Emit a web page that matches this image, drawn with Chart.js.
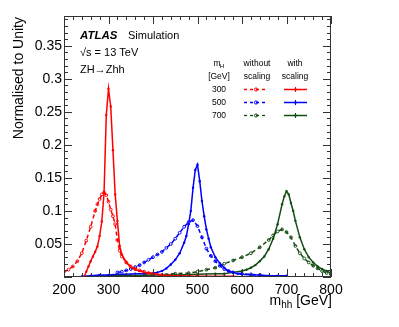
<!DOCTYPE html>
<html><head><meta charset="utf-8">
<script src="https://cdn.jsdelivr.net/npm/chart.js@4"></script>
<style>html,body{margin:0;padding:0;background:#fff}#wrap{width:399px;height:327px}</style>
</head><body><div id="wrap"><canvas id="c" width="399" height="327"></canvas></div>
<script>
// ---- data ----
const massLabels = ['300', '500', '700'];
const xTicks = [200, 300, 400, 500, 600, 700, 800];
const yTicks = [0.05, 0.1, 0.15, 0.2, 0.25, 0.3, 0.35];

const x300With = [245,250,255,260,265,270,275,280,285,290,295,300,305,310,315,320,325,330,340,350,360,370,380,390,400,410,420,440,460,480,500,520,540,560,580,600];
const y300With = [0.000,0.008,0.016,0.024,0.031,0.038,0.046,0.062,0.084,0.127,0.245,0.285,0.258,0.192,0.125,0.085,0.047,0.034,0.022,0.015,0.011,0.009,0.007,0.006,0.005,0.004,0.003,0.002,0.002,0.001,0.001,0.001,0.001,0.001,0.001,0.000];

const x300Without = [200,210,220,230,240,250,260,270,275,280,285,290,295,300,305,310,315,320,325,330,340,350,360,370,380,390,400,420,440,460,480,500];
const y300Without = [0.008,0.011,0.016,0.024,0.036,0.055,0.076,0.100,0.110,0.118,0.125,0.128,0.124,0.114,0.102,0.092,0.080,0.056,0.040,0.031,0.022,0.016,0.013,0.010,0.008,0.006,0.005,0.003,0.002,0.001,0.001,0.001];

const x500With = [240,260,280,300,320,340,360,380,400,410,420,430,440,450,460,470,475,480,485,490,495,500,505,510,515,520,525,530,540,550,560,570,580,590,600,620,640,660,680,700];
const y500With = [0.001,0.002,0.003,0.003,0.004,0.004,0.005,0.005,0.006,0.007,0.009,0.013,0.019,0.026,0.036,0.052,0.062,0.080,0.100,0.135,0.162,0.170,0.145,0.115,0.092,0.072,0.058,0.045,0.030,0.021,0.014,0.009,0.007,0.005,0.004,0.003,0.003,0.002,0.002,0.002];

const x500Without = [320,330,340,350,360,370,380,390,400,410,420,430,440,450,460,470,480,490,500,510,520,530,540,550,560,570,580,600,620,640];
const y500Without = [0.007,0.008,0.010,0.012,0.015,0.018,0.022,0.026,0.030,0.034,0.038,0.044,0.050,0.058,0.067,0.076,0.083,0.086,0.077,0.060,0.043,0.032,0.024,0.017,0.012,0.009,0.007,0.005,0.004,0.003];

const x700With = [270,300,350,400,450,500,540,560,580,600,610,620,630,640,650,660,670,680,690,695,700,705,710,715,720,730,740,750,760,770,780,790,800];
const y700With = [0.001,0.002,0.002,0.003,0.003,0.004,0.005,0.005,0.007,0.009,0.011,0.014,0.018,0.024,0.031,0.042,0.058,0.080,0.110,0.122,0.130,0.125,0.112,0.100,0.085,0.060,0.042,0.030,0.022,0.016,0.012,0.009,0.006];

const x700Without = [300,350,400,450,480,500,520,540,560,580,600,620,640,660,670,680,690,700,710,720,730,740,750,760,770,780,790,800];
const y700Without = [0.001,0.002,0.003,0.005,0.006,0.008,0.011,0.014,0.020,0.025,0.030,0.036,0.045,0.056,0.063,0.069,0.072,0.068,0.060,0.047,0.036,0.028,0.022,0.017,0.013,0.009,0.006,0.004];

const RED = '#ff0000', BLUE = '#0000ff', GREEN = '#134d13';

function pts(xs, ys) { return xs.map((x, i) => ({x: x, y: ys[i]})); }
function solid(xs, ys, col) {
  return {data: pts(xs, ys), borderColor: col, backgroundColor: col, borderWidth: 1.5,
    pointRadius: 1.2, pointBorderWidth: 0, pointBackgroundColor: col, tension: 0, fill: false};
}
function dashed(xs, ys, col) {
  return {data: pts(xs, ys), borderColor: col, backgroundColor: 'rgba(0,0,0,0)', borderWidth: 1.5,
    borderDash: [4, 3], pointRadius: 1.4, pointBorderWidth: 1, pointBorderColor: col,
    pointBackgroundColor: 'rgba(0,0,0,0)', tension: 0, fill: false};
}

const FONT = '"Liberation Sans", Arial, Helvetica, sans-serif';

const framePlugin = {
  id: 'frame',
  afterDatasetsDraw(chart) {
    const ctx = chart.ctx, a = chart.chartArea, xs = chart.scales.x, ys = chart.scales.y;
    ctx.save();
    ctx.strokeStyle = '#333'; ctx.lineWidth = 1;
    ctx.strokeRect(a.left + 0.5, a.top + 0.5, a.right - a.left - 1, a.bottom - a.top - 1);
    ctx.beginPath();
    // x ticks (major every 100, minor every 20)
    for (let v = 200; v <= 800; v += 20) {
      const p = Math.round(xs.getPixelForValue(v)) + 0.5;
      const L = (v % 100 === 0) ? 8 : 4;
      ctx.moveTo(p, a.bottom); ctx.lineTo(p, a.bottom - L);
      ctx.moveTo(p, a.top); ctx.lineTo(p, a.top + L);
    }
    // y ticks (major every 0.05, minor every 0.01)
    for (let k = 0; k <= 39; k++) {
      const v = k / 100;
      const p = Math.round(ys.getPixelForValue(v)) + 0.5;
      const L = (k % 5 === 0) ? 8 : 4;
      ctx.moveTo(a.left, p); ctx.lineTo(a.left + L, p);
      ctx.moveTo(a.right, p); ctx.lineTo(a.right - L, p);
    }
    ctx.stroke();

    // axis titles
    ctx.fillStyle = '#000';
    ctx.font = '14px ' + FONT;
    ctx.textBaseline = 'alphabetic';
    // x title: m_hh [GeV], right aligned to axis end
    const t1 = 'm', t2 = 'hh', t3 = ' [GeV]';
    ctx.font = '14px ' + FONT; const w1 = ctx.measureText(t1).width, w3 = ctx.measureText(t3).width;
    ctx.font = '10px ' + FONT; const w2 = ctx.measureText(t2).width;
    let xr = a.right + 1, xb = 305;
    let x0 = xr - (w1 + w2 + w3);
    ctx.textAlign = 'left';
    ctx.font = '14px ' + FONT; ctx.fillText(t1, x0, xb);
    ctx.font = '10px ' + FONT; ctx.fillText(t2, x0 + w1, xb + 3);
    ctx.font = '14px ' + FONT; ctx.fillText(t3, x0 + w1 + w2, xb);
    // y title
    ctx.save();
    ctx.translate(23, a.top + 1);
    ctx.rotate(-Math.PI / 2);
    ctx.textAlign = 'right';
    ctx.font = '14px ' + FONT;
    ctx.fillText('Normalised to Unity', 0, 0);
    ctx.restore();

    // ATLAS label
    ctx.textAlign = 'left';
    ctx.font = 'bold italic 11.5px ' + FONT;
    ctx.fillText('ATLAS', 80, 39);
    ctx.font = '11px ' + FONT;
    ctx.fillText('Simulation', 128, 39);
    ctx.fillText('\u221As = 13 TeV', 80, 56);
    ctx.fillText('ZH\u2192Zhh', 80, 73);

    // legend table
    ctx.textAlign = 'center';
    ctx.font = '8.5px ' + FONT;
    ctx.fillText('m', 217, 66);
    ctx.font = '6px ' + FONT; ctx.fillText('H', 222, 68);
    ctx.font = '8.5px ' + FONT;
    ctx.fillText('[GeV]', 219, 79);
    ctx.fillText('without', 257, 66);
    ctx.fillText('scaling', 257, 79);
    ctx.fillText('with', 295, 66);
    ctx.fillText('scaling', 295, 79);
    const cols = [RED, BLUE, GREEN];
    const rowsY = [89, 102, 115];
    for (let i = 0; i < 3; i++) {
      const y = rowsY[i];
      ctx.fillStyle = '#000';
      ctx.textBaseline = 'middle';
      ctx.fillText(massLabels[i], 219, y + 1);
      ctx.strokeStyle = cols[i]; ctx.lineWidth = 1.3;
      ctx.setLineDash([3, 3]);
      ctx.beginPath(); ctx.moveTo(244, y + 0.5); ctx.lineTo(268, y + 0.5); ctx.stroke();
      ctx.setLineDash([]);
      ctx.beginPath(); ctx.arc(256, y + 0.5, 1.6, 0, 2 * Math.PI); ctx.lineWidth = 1; ctx.stroke();
      ctx.lineWidth = 1.5;
      ctx.beginPath(); ctx.moveTo(284, y + 0.5); ctx.lineTo(307, y + 0.5); ctx.stroke();
      ctx.fillStyle = cols[i];
      ctx.beginPath(); ctx.arc(295.5, y + 0.5, 1.3, 0, 2 * Math.PI); ctx.fill();
      ctx.lineWidth = 1; ctx.beginPath(); ctx.moveTo(295.5, y - 2); ctx.lineTo(295.5, y + 3); ctx.stroke();
    }
    ctx.restore();
  }
};

new Chart(document.getElementById('c'), {
  type: 'line',
  data: {datasets: [
    dashed(x300Without, y300Without, RED),
    solid(x300With, y300With, RED),
    dashed(x500Without, y500Without, BLUE),
    solid(x500With, y500With, BLUE),
    dashed(x700Without, y700Without, GREEN),
    solid(x700With, y700With, GREEN)
  ]},
  options: {
    responsive: false, animation: false, devicePixelRatio: 1,
    layout: {padding: {top: 16, right: 68, left: 0, bottom: 0}},
    plugins: {legend: {display: false}, tooltip: {enabled: false}},
    elements: {line: {spanGaps: true}},
    scales: {
      x: {type: 'linear', min: 200, max: 800,
        grid: {display: false, drawTicks: false}, border: {display: false},
        afterBuildTicks: s => { s.ticks = xTicks.map(v => ({value: v})); },
        afterFit: s => { s.height = 50; },
        ticks: {font: {size: 14, family: FONT}, color: '#000', padding: 5, maxRotation: 0, autoSkip: false,
          callback: v => String(v)}},
      y: {type: 'linear', min: 0, max: 0.395,
        grid: {display: false, drawTicks: false}, border: {display: false},
        afterBuildTicks: s => { s.ticks = yTicks.map(v => ({value: v})); },
        afterFit: s => { s.width = 64; },
        ticks: {font: {size: 14, family: FONT}, color: '#000', padding: 2, autoSkip: false,
          callback: v => String(+v.toFixed(2))}}
    }
  },
  plugins: [framePlugin]
});
</script></body></html>
